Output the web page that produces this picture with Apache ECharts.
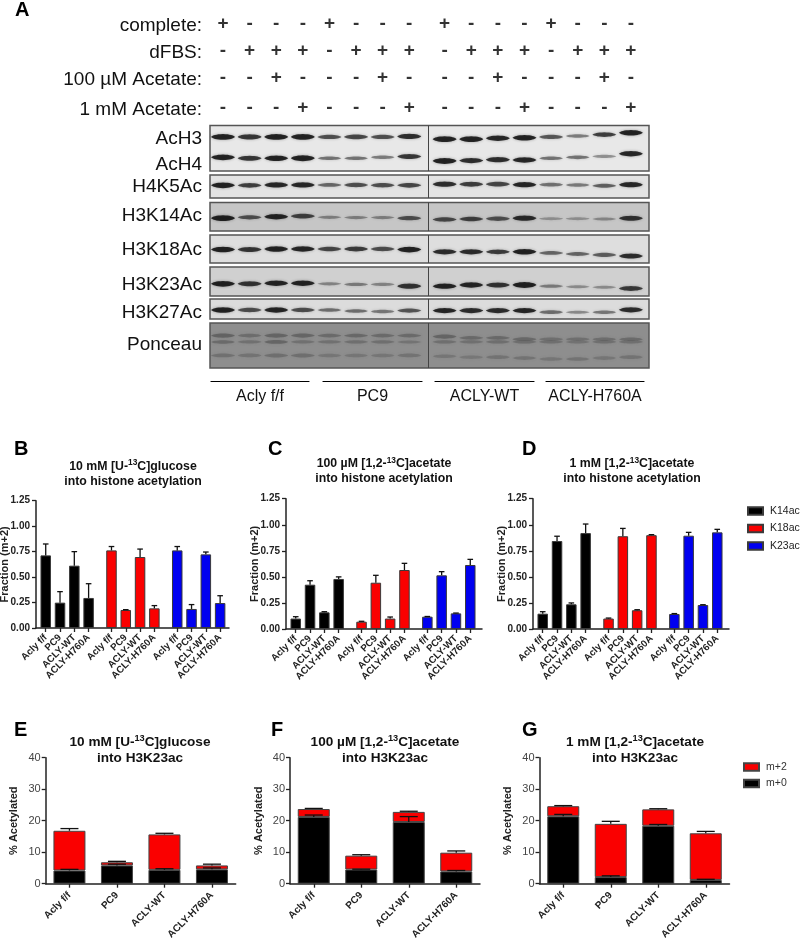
<!DOCTYPE html>
<html><head><meta charset="utf-8">
<style>html,body{margin:0;padding:0;background:#fff}#c{width:800px;height:938px}</style>
<script src="https://cdn.jsdelivr.net/npm/echarts@6/dist/echarts.min.js"></script>
</head><body><div id="c"></div>
<script>
// ---------- Panel A: treatments (1 = "+", 0 = "-") ----------
const complete   = [1,0,0,0,1,0,0,0,1,0,0,0,1,0,0,0];
const dFBS       = [0,1,1,1,0,1,1,1,0,1,1,1,0,1,1,1];
const acetate100 = [0,0,1,0,0,0,1,0,0,0,1,0,0,0,1,0];
const acetate1m  = [0,0,0,1,0,0,0,1,0,0,0,1,0,0,0,1];
const treatmentNames = ['complete:','dFBS:','100 µM Acetate:','1 mM Acetate:'];
const groupNames = ['Acly f/f','PC9','ACLY-WT','ACLY-H760A'];

// ---------- Panel A: band intensity per lane, and band position (fraction of panel height) ----------
const acH3  = [1,.8,1,.95,.65,.7,.65,.85,.95,.95,.9,.95,.6,.4,.75,.95];
const acH3Y = [.25,.25,.25,.25,.25,.25,.25,.24,.3,.3,.28,.27,.25,.23,.2,.16];
const acH4  = [1,.8,.95,1,.45,.45,.4,.8,1,.85,.85,.9,.45,.45,.3,.9];
const acH4Y = [.7,.72,.72,.72,.72,.72,.7,.68,.78,.77,.75,.76,.72,.7,.68,.62];
const h4k5  = [.95,.75,.9,.9,.5,.65,.65,.7,.85,.75,.7,.9,.45,.4,.55,.9];
const h4k5Y = [.45,.45,.43,.43,.43,.43,.45,.45,.4,.4,.4,.42,.42,.43,.47,.42];
const h3k14 = [.95,.6,.9,.7,.3,.3,.3,.6,.65,.7,.6,.85,.2,.2,.25,.8];
const h3k14Y= [.55,.52,.5,.48,.52,.53,.53,.55,.6,.58,.57,.55,.57,.57,.58,.55];
const h3k18 = [.95,.8,.95,.9,.7,.75,.65,1,.85,.85,.75,.95,.5,.5,.55,.85];
const h3k18Y= [.52,.52,.5,.5,.5,.5,.5,.52,.6,.6,.6,.6,.64,.68,.71,.75];
const h3k23 = [.95,.8,.9,.9,.3,.35,.3,.8,.9,.9,.8,1,.35,.25,.25,.75];
const h3k23Y= [.58,.58,.56,.56,.58,.6,.6,.66,.66,.62,.62,.62,.66,.68,.7,.74];
const h3k27 = [.95,.65,.9,.65,.45,.45,.4,.6,.9,.85,.85,.9,.45,.3,.4,.85];
const h3k27Y= [.55,.55,.55,.55,.55,.6,.62,.58,.58,.58,.58,.58,.66,.66,.66,.54];
const ponceauTop = [.8,.55,.75,.7,.6,.65,.6,.6,.75,.6,.6,.6,.45,.45,.5,.55];
const ponceauMid = [.6,.45,.7,.45,.45,.5,.5,.4,.5,.45,.5,.5,.45,.4,.45,.45];
const ponceauLow = [.45,.4,.5,.5,.35,.35,.35,.4,.35,.3,.4,.4,.35,.4,.35,.4];

// ---------- Panels B-D ----------
const labels = ['Acly f/f','PC9','ACLY-WT','ACLY-H760A'];
const bK14 = [.713,.249,.612,.295], bK14E = [.825,.357,.75,.435];
const bK18 = [.762,.177,.697,.193], bK18E = [.80,.18,.775,.22];
const bK23 = [.762,.187,.723,.245], bK23E = [.80,.23,.746,.317];
const cK14 = [.10,.425,.16,.48],    cK14E = [.118,.463,.166,.50];
const cK18 = [.07,.444,.10,.566],   cK18E = [.074,.515,.115,.63];
const cK23 = [.118,.515,.15,.614],  cK23E = [.12,.55,.153,.668];
const dK14 = [.147,.844,.237,.92],  dK14E = [.166,.89,.25,1.007];
const dK18 = [.10,.89,.18,.90],     dK18E = [.105,.965,.185,.905];
const dK23 = [.144,.895,.23,.927],  dK23E = [.148,.927,.233,.956];

// ---------- Panels E-G ----------
const eM0 = [4.2,5.8,4.4,4.55], eM0E = [4.55,6.2,4.75,5.0];
const eM2 = [12.6,1.0,11.25,1.25], eTotE = [17.5,7.1,16.0,6.2];
const fM0 = [21.2,4.5,19.6,3.9], fM0E = [21.8,4.6,21.3,4.2];
const fM2 = [2.5,4.4,3.2,5.95], fTotE = [23.9,9.2,23.0,10.4];
const gM0 = [21.4,2.1,18.4,1.2], gM0E = [22.0,2.5,18.8,1.4];
const gM2 = [3.2,16.9,5.2,14.8], gTotE = [24.8,19.8,23.8,16.6];

const FONT = '"Liberation Sans", Arial, sans-serif';
const grid=[], xAxis=[], yAxis=[], series=[], graphic=[], title=[];
function addAxes(g,x,y){g.outerBoundsMode='none';grid.push(g);xAxis.push(Object.assign({gridIndex:grid.length-1},x));yAxis.push(Object.assign({gridIndex:grid.length-1},y));return grid.length-1;}

// ---------- Panel A layout ----------
const laneX = i => i + (i>=8 ? .33 : 0);
const LANE_MIN=-.489, LANE_MAX=16.01;
const LENS='path://M0 50 C 8 30 20 18 50 14 C 80 18 92 30 100 50 C 92 70 80 82 50 86 C 20 82 8 70 0 50Z';

// treatments grid
const tg = addAxes({left:210,width:439,top:24,height:84},
  {type:'value',min:LANE_MIN,max:LANE_MAX,show:false},
  {type:'value',min:0,max:3.11,inverse:true,show:false});
[complete,dFBS,acetate100,acetate1m].forEach((row,r)=>{
  const rowY=[0,1,2,3.11][r];
  series.push({type:'scatter',xAxisIndex:tg,yAxisIndex:tg,silent:true,clip:false,symbol:'rect',symbolSize:1,
    itemStyle:{color:'rgba(255,255,255,0)'},
    data:row.map((v,i)=>[laneX(i),rowY,v]),
    label:{show:true,position:'inside',formatter:p=>p.value[2]?'+':'-',fontFamily:FONT,fontSize:19,fontWeight:'bold',color:'#000'}});
  graphic.push({type:'text',right:800-202,top:[24,51,78,108][r]-8,style:{text:treatmentNames[r],font:'19px '+FONT,fill:'#111',textAlign:'right'}});
});

function blot(top,bottom,bg,bands,color,label,labelY){
  const g=addAxes({left:210,width:439,top:top,height:bottom-top,show:true,backgroundColor:bg,borderColor:'#555',borderWidth:1.5,z:1},
    {type:'value',min:LANE_MIN,max:LANE_MAX,show:false},
    {type:'value',min:0,max:1,inverse:true,show:false});
  bands.forEach((b,k)=>{
    series.push({type:'scatter',xAxisIndex:g,yAxisIndex:g,silent:true,symbol:LENS,
      symbolSize:v=>[b.w||24,(b.h||2)+(b.s||3.8)*v[2]],
      data:b.v.map((v,i)=>[laneX(i),b.y[i],v]),
      itemStyle:{color:p=>`rgba(${color},${Math.min(1,.12+.95*p.value[2])})`,shadowBlur:3,shadowColor:`rgba(${color},.4)`},
      markLine:k===0?{silent:true,symbol:'none',label:{show:false},animation:false,lineStyle:{color:'#444',width:1,type:'solid'},data:[{xAxis:7.71}]}:undefined
    });
  });
  label.forEach((t,i)=>graphic.push({type:'text',right:800-202,top:labelY[i]-8,style:{text:t,font:'19px '+FONT,fill:'#111',textAlign:'right'}}));
}
const same=(n,v)=>Array(n).fill(v);
blot(125.5,171,'#e8e8e8',[{v:acH3,y:acH3Y},{v:acH4,y:acH4Y}],'0,0,0',['AcH3','AcH4'],[137,163]);
blot(175,198,'#e3e3e3',[{v:h4k5,y:h4k5Y}],'0,0,0',['H4K5Ac'],[185]);
blot(202.5,231,'#c6c6c6',[{v:h3k14,y:h3k14Y}],'0,0,0',['H3K14Ac'],[214]);
blot(235,263,'#dedede',[{v:h3k18,y:h3k18Y}],'0,0,0',['H3K18Ac'],[248]);
blot(267,296,'#d0d0d0',[{v:h3k23,y:h3k23Y}],'0,0,0',['H3K23Ac'],[283]);
blot(299,319,'#dcdcdc',[{v:h3k27,y:h3k27Y}],'0,0,0',['H3K27Ac'],[311]);
blot(323,368,'#8e8e8e',[
  {v:ponceauTop,y:[.28,.28,.28,.28,.28,.28,.28,.28,.3,.33,.33,.36,.36,.36,.36,.36],h:2,s:3},
  {v:ponceauMid,y:same(16,.42),h:2,s:2.5},
  {v:ponceauLow,y:[.72,.72,.72,.72,.72,.72,.72,.72,.74,.76,.76,.78,.8,.8,.78,.76],h:2.5,s:3}
],'85,85,85',['Ponceau'],[343]);

// group bars under the blot: one x-axis per group
[[211,98],[323,99],[435,99],[546,98]].forEach((p,i)=>{
  const g=addAxes({left:p[0],width:p[1],top:350,height:31},
    {type:'category',data:[groupNames[i]],position:'bottom',
     axisLine:{show:true,lineStyle:{color:'#000',width:1.2}},axisTick:{show:false},
     axisLabel:{color:'#111',fontFamily:FONT,fontSize:16,margin:8,interval:0,hideOverlap:false,overflow:'none',width:200}},
    {type:'value',show:false,min:0,max:1});
  series.push({type:'scatter',xAxisIndex:g,yAxisIndex:g,silent:true,symbol:'none',data:[]});
});

// ---------- Panels B-D ----------
const COLORS={K14ac:'#000000',K18ac:'#fa0000',K23ac:'#0000f0'};
const slotX=(g,j)=>g*4.6+j;
const slots=[0,1,2].flatMap(g=>[0,1,2,3].map(j=>slotX(g,j)));
const slotLabel=v=>{const i=slots.findIndex(s=>Math.abs(s-v)<.01);return i<0?'':labels[i%4];};

function errSeries(idx,pts,cap){
  return {type:'custom',xAxisIndex:idx,yAxisIndex:idx,silent:true,clip:false,z:5,data:pts,
    renderItem:(p,api)=>{
      const a=api.coord([api.value(0),api.value(1)]),b=api.coord([api.value(0),api.value(2)]);
      const st={stroke:'#111',lineWidth:1.3};
      return {type:'group',children:[
        {type:'line',shape:{x1:a[0],y1:a[1],x2:b[0],y2:b[1]},style:st},
        {type:'line',shape:{x1:b[0]-cap,y1:b[1],x2:b[0]+cap,y2:b[1]},style:st}]};
    }};
}
function fractionPanel(left,width,top,height,xMax,vals){
  const idx=addAxes({left,width,top,height},
   {type:'value',min:-.68,max:xMax,
    axisLine:{show:true,onZero:false,lineStyle:{color:'#222',width:1.5}},splitLine:{show:false},
    axisTick:{show:true,length:4,lineStyle:{color:'#222',width:1.3},customValues:slots},
    axisLabel:{customValues:slots,formatter:slotLabel,rotate:45,margin:8,showMinLabel:true,showMaxLabel:true,hideOverlap:false,color:'#222',fontFamily:FONT,fontWeight:'bold',fontSize:9.7}},
   {type:'value',min:0,max:1.25,interval:.25,name:'Fraction (m+2)',nameLocation:'middle',nameGap:26,nameMoveOverlap:false,
    nameTextStyle:{fontFamily:FONT,fontWeight:'bold',fontSize:11,color:'#222'},
    axisLine:{show:true,onZero:false,lineStyle:{color:'#222',width:1.5}},splitLine:{show:false},
    axisTick:{show:true,length:4,lineStyle:{color:'#222',width:1.3}},
    axisLabel:{formatter:v=>v.toFixed(2),margin:6,color:'#222',fontFamily:FONT,fontWeight:'bold',fontSize:10}});
  ['K14ac','K18ac','K23ac'].forEach((name,g)=>{
    series.push({type:'bar',name,xAxisIndex:idx,yAxisIndex:idx,barWidth:10.5,barGap:'-100%',silent:true,
      data:vals[g][0].map((v,j)=>[slotX(g,j),v]),
      itemStyle:{color:COLORS[name],borderColor:'#3a3a3a',borderWidth:1}});
    series.push(errSeries(idx,vals[g][0].map((v,j)=>[slotX(g,j),v,vals[g][1][j]]),2.8));
  });
}
fractionPanel(36,193,500.7,127.3,12.82,[[bK14,bK14E],[bK18,bK18E],[bK23,bK23E]]);
fractionPanel(286,196,498.7,130.3,13.02,[[cK14,cK14E],[cK18,cK18E],[cK23,cK23E]]);
fractionPanel(533,196,498.7,130.3,13.02,[[dK14,dK14E],[dK18,dK18E],[dK23,dK23E]]);

// ---------- Panels E-G ----------
function stackPanel(left,m0,m0E,m2,totE){
  const idx=addAxes({left,width:190,top:757.7,height:126},
   {type:'category',data:labels,
    axisLine:{show:true,lineStyle:{color:'#222',width:1.5}},
    axisTick:{show:true,alignWithLabel:true,length:4,lineStyle:{color:'#222',width:1.3}},
    axisLabel:{interval:0,rotate:45,margin:10,color:'#222',fontFamily:FONT,fontWeight:'bold',fontSize:10}},
   {type:'value',min:0,max:40,interval:10,name:'% Acetylated',nameLocation:'middle',nameGap:26,nameMoveOverlap:false,
    nameTextStyle:{fontFamily:FONT,fontWeight:'bold',fontSize:11,color:'#222'},
    axisLine:{show:true,lineStyle:{color:'#222',width:1.5}},splitLine:{show:false},
    axisTick:{show:true,length:4,lineStyle:{color:'#222',width:1.3}},
    axisLabel:{margin:5,color:'#444',fontFamily:FONT,fontSize:11}});
  const st='s'+idx;
  series.push({type:'bar',name:'m+0',stack:st,xAxisIndex:idx,yAxisIndex:idx,barWidth:32,silent:true,data:m0,
    itemStyle:{color:'#000',borderColor:'#444',borderWidth:1}});
  series.push({type:'bar',name:'m+2',stack:st,xAxisIndex:idx,yAxisIndex:idx,barWidth:32,silent:true,data:m2,
    itemStyle:{color:'#fa0000',borderColor:'#444',borderWidth:1}});
  series.push(errSeries(idx,m0.map((v,i)=>[i,v,m0E[i]]),9));
  series.push(errSeries(idx,m0.map((v,i)=>[i,v+m2[i],totE[i]]),9));
}
stackPanel(45.7,eM0,eM0E,eM2,eTotE);
stackPanel(290,fM0,fM0E,fM2,fTotE);
stackPanel(539.5,gM0,gM0E,gM2,gTotE);

// ---------- Titles ----------
function head(cx,top,size,a,b,c){
  const r=(n,o)=>Object.assign({fontFamily:FONT,fontWeight:'bold',fontSize:size,color:'#111',lineHeight:size+2.5},o||{});
  title.push({left:cx,top,padding:0,textAlign:'center',text:`{b|${a}}{s|13}{b|${b}}\n{b|${c}}`,
    textStyle:{rich:{b:r('b'),s:r('s',{fontSize:size*.68,verticalAlign:'top'})}}});
}
head(133,459,12.3,'10 mM [U-','C]glucose','into histone acetylation');
head(384,456.5,12.3,'100 µM [1,2-','C]acetate','into histone acetylation');
head(632,456.5,12.3,'1 mM [1,2-','C]acetate','into histone acetylation');
head(140,734,13.6,'10 mM [U-','C]glucose','into H3K23ac');
head(385,734,13.6,'100 µM [1,2-','C]acetate','into H3K23ac');
head(635,734,13.6,'1 mM [1,2-','C]acetate','into H3K23ac');

[['A',15,0],['B',14,439],['C',268,439],['D',522,439],['E',14,720],['F',271,720],['G',522,720]].forEach(l=>
  graphic.push({type:'text',left:l[1],top:l[2],style:{text:l[0],font:'bold 20px '+FONT,fill:'#000'}}));

const chart=echarts.init(document.getElementById('c'),null,{renderer:'canvas'});
chart.setOption({animation:false,backgroundColor:'#fff',grid,xAxis,yAxis,series,title,graphic:{elements:graphic},
  legend:[
   {data:['K14ac','K18ac','K23ac'],orient:'vertical',left:747,top:505.5,padding:0,itemWidth:15,itemHeight:7.5,itemGap:6.5,icon:'rect',selectedMode:false,
    textStyle:{fontFamily:FONT,fontSize:10.5,color:'#222',padding:[0,0,0,2]}},
   {data:['m+2','m+0'],orient:'vertical',left:743,top:761.5,padding:0,itemWidth:15,itemHeight:7.5,itemGap:5.5,icon:'rect',selectedMode:false,
    textStyle:{fontFamily:FONT,fontSize:10.5,color:'#333',padding:[0,0,0,2]}}
  ]});
</script></body></html>
